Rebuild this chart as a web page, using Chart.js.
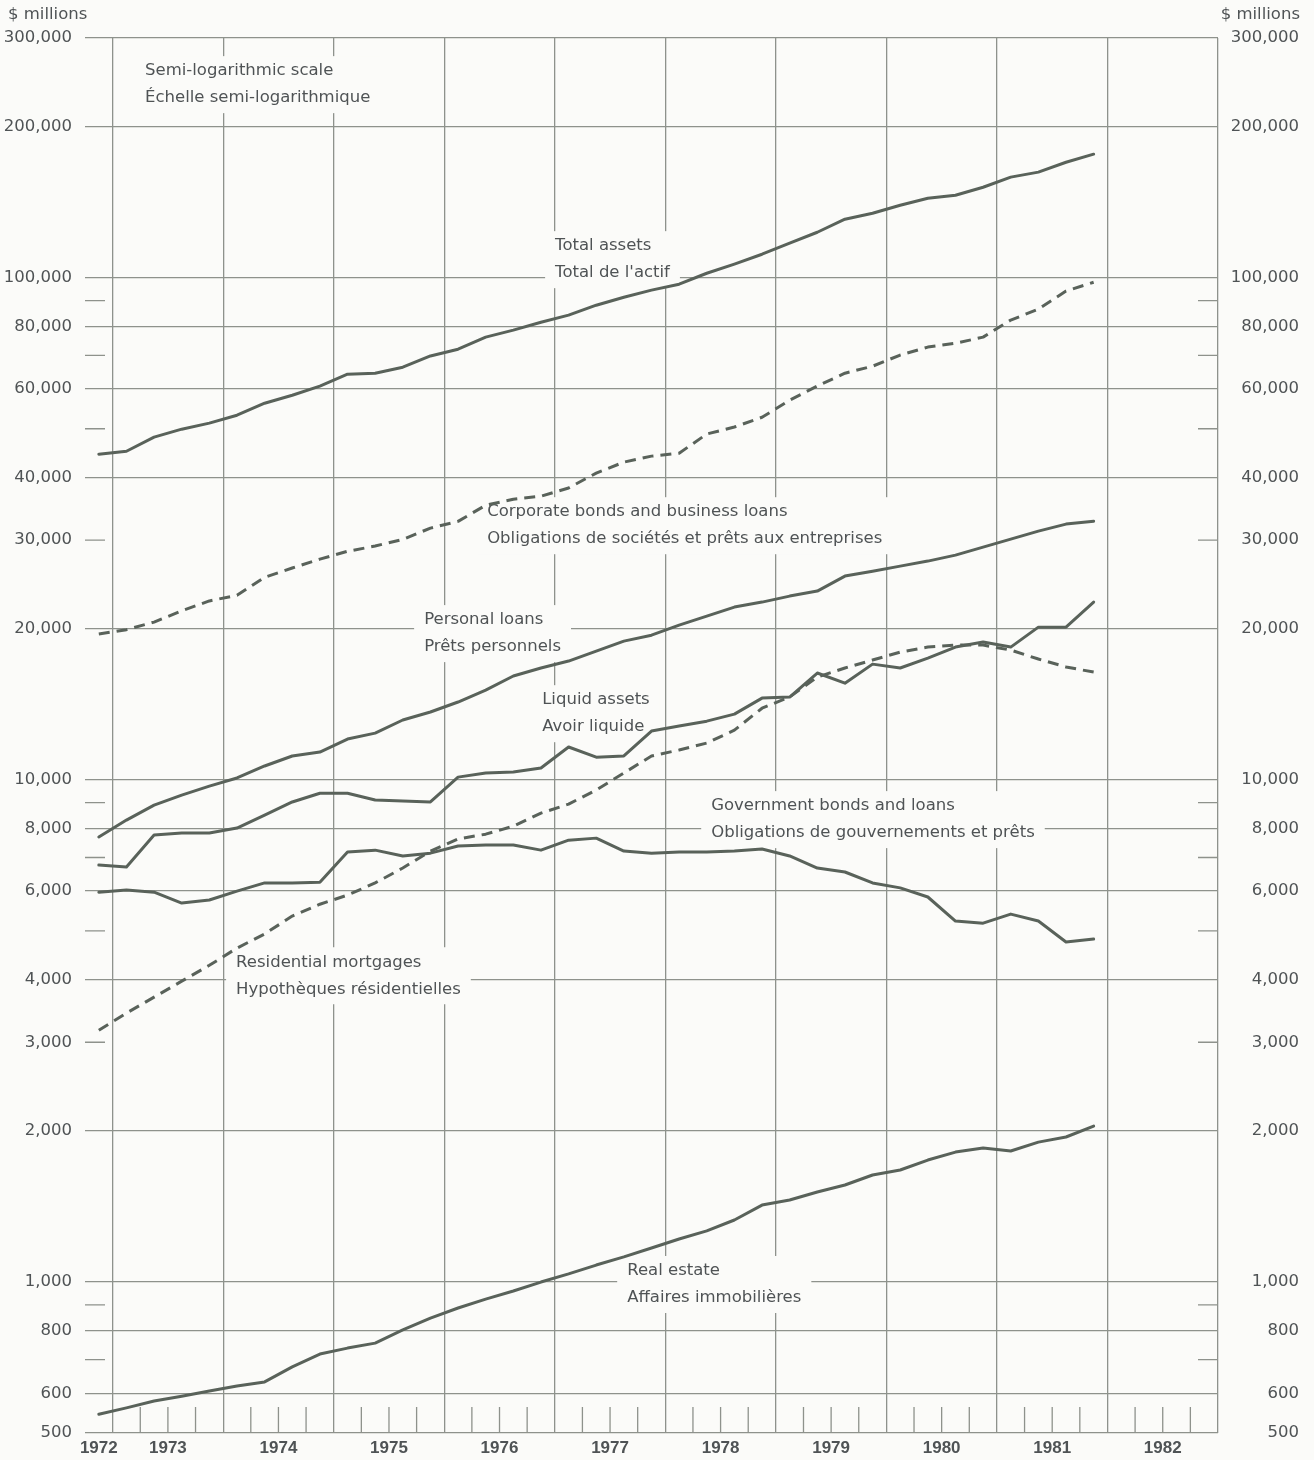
<!DOCTYPE html>
<html>
<head>
<meta charset="utf-8">
<script src="https://cdn.jsdelivr.net/npm/chart.js@4.4.0/dist/chart.umd.min.js"></script>
<style>
html,body{margin:0;padding:0;background:#fbfbf9;}
canvas{display:block;}
</style>
</head>
<body>
<canvas id="c" width="1314" height="1460"></canvas>
<script>
// ---------- DATA ----------
const quarters = ['1972Q4',
  '1973Q1','1973Q2','1973Q3','1973Q4',
  '1974Q1','1974Q2','1974Q3','1974Q4',
  '1975Q1','1975Q2','1975Q3','1975Q4',
  '1976Q1','1976Q2','1976Q3','1976Q4',
  '1977Q1','1977Q2','1977Q3','1977Q4',
  '1978Q1','1978Q2','1978Q3','1978Q4',
  '1979Q1','1979Q2','1979Q3','1979Q4',
  '1980Q1','1980Q2','1980Q3','1980Q4',
  '1981Q1','1981Q2','1981Q3','1981Q4'];

const totalAssets = [44500,45100,48100,49900,51300,53200,56200,58300,60800,64200,64500,66300,69800,72000,76100,78600,81500,84200,88100,91400,94400,97000,102000,106400,111300,117100,123100,130700,134300,139300,143900,145900,151300,158500,162200,169700,176100];
const corporateBonds = [19500,19900,20600,21700,22700,23300,25300,26400,27500,28500,29200,30100,31700,32700,35200,36200,36700,38100,40800,42900,44100,44700,48800,50400,52700,57000,60800,64500,66600,70100,72700,74000,76100,82300,86500,94000,97900];
const personalLoans = [7690,8310,8900,9320,9710,10080,10650,11150,11350,12050,12380,13150,13640,14280,15080,16090,16690,17230,18030,18880,19400,20320,21170,22070,22580,23210,23750,25440,26020,26630,27250,28010,29050,30140,31270,32290,32730];
const liquidAssets = [6760,6700,7760,7830,7830,8010,8500,9030,9400,9400,9110,9070,9030,10120,10310,10360,10550,11620,11090,11150,12500,12790,13080,13510,14540,14610,16310,15570,16990,16690,17470,18370,18800,18370,20130,20130,22580];
const governmentBonds = [5970,6030,5970,5680,5760,6000,6230,6230,6250,7180,7240,7050,7140,7380,7410,7410,7240,7580,7650,7210,7140,7180,7180,7210,7280,7050,6670,6550,6230,6090,5840,5230,5180,5400,5230,4750,4815];
const residentialMortgages = [3170,3430,3690,3970,4270,4620,4930,5350,5650,5890,6230,6670,7210,7620,7790,8080,8580,8940,9540,10310,11150,11460,11830,12550,13880,14610,16010,16690,17310,17950,18370,18540,18540,18120,17390,16770,16380];
const realEstate = [545,561,579,592,606,620,632,677,718,738,755,802,847,887,924,959,999,1037,1080,1121,1168,1217,1263,1328,1422,1455,1510,1559,1632,1670,1748,1813,1847,1822,1898,1943,2043];

const yearLabels = ['1972','1973','1974','1975','1976','1977','1978','1979','1980','1981','1982'];
const yLabelValues = [500,600,800,1000,2000,3000,4000,6000,8000,10000,20000,30000,40000,60000,80000,100000,200000,300000];
const yFullLines = [500,600,800,1000,2000,4000,6000,8000,10000,20000,40000,60000,80000,100000,200000,300000];
const yShortTicks = [700,900,3000,5000,7000,9000,30000,50000,70000,90000];

const annotations = [
  {x: 1973.293, y: 257700, lines: ['Semi-logarithmic scale', 'Échelle semi-logarithmique']},
  {x: 1977.003, y: 115500, lines: ['Total assets', "Total de l'actif"]},
  {x: 1976.388, y: 34100, lines: ['Corporate bonds and business loans', 'Obligations de sociétés et prêts aux entreprises']},
  {x: 1975.818, y: 20790, lines: ['Personal loans', 'Prêts personnels']},
  {x: 1976.886, y: 14400, lines: ['Liquid assets', 'Avoir liquide']},
  {x: 1978.415, y: 8860, lines: ['Government bonds and loans', 'Obligations de gouvernements et prêts']},
  {x: 1974.117, y: 4330, lines: ['Residential mortgages', 'Hypothèques résidentielles']},
  {x: 1977.655, y: 1051, lines: ['Real estate', 'Affaires immobilières']}
];

// ---------- STYLE ----------
const BG = '#fbfbf9';
const GRID = '#8e928c';
const LINE = '#59625a';
const TEXT = '#4f5355';
const FONT = 'DejaVu Sans';
const X_MIN = 1972.75, X_MAX = 1983;

const quarterX = quarters.map(q => parseInt(q.slice(0,4)) + (parseInt(q.slice(5)) - 1) * 0.25 + 0.125);
const pts = arr => arr.map((v, i) => ({x: quarterX[i], y: v}));

const yearPos = yearLabels.map(s => { const yr = parseInt(s); return (Math.max(yr, X_MIN) + yr + 1) / 2; });
const yearBounds = yearLabels.map(s => parseInt(s) + 1);
const xTickValues = [...yearPos, ...yearBounds].sort((a, b) => a - b);

const fmt = v => v.toLocaleString('en-US');
const yTickValues = [...yFullLines, ...yShortTicks].sort((a, b) => a - b);

function ds(label, data, dashed) {
  return {label, data: pts(data), borderColor: LINE, borderWidth: 3, borderDash: dashed ? [11, 7] : [],
          pointRadius: 0, tension: 0, fill: false, borderJoinStyle: 'round', borderCapStyle: dashed ? 'butt' : 'round'};
}

const decor = {
  id: 'decor',
  beforeDatasetsDraw(chart) {
    const {ctx, chartArea: a, scales: {x, y}} = chart;
    ctx.save();
    ctx.strokeStyle = GRID;
    ctx.lineWidth = 1.3;
    ctx.beginPath();
    for (const v of yShortTicks) {
      const py = y.getPixelForValue(v);
      ctx.moveTo(a.left, py); ctx.lineTo(a.left + 20, py);
      ctx.moveTo(a.right - 20, py); ctx.lineTo(a.right, py);
    }
    for (let k = Math.floor(X_MIN * 4) + 1; k < X_MAX * 4; k++) {
      if (k % 4 === 0) continue;
      const px = x.getPixelForValue(k / 4);
      ctx.moveTo(px, a.bottom); ctx.lineTo(px, a.bottom - 26);
    }
    ctx.stroke();

    ctx.font = '16.5px "' + FONT + '"';
    ctx.textBaseline = 'middle';
    ctx.textAlign = 'left';
    const lh = 27;
    for (const an of annotations) {
      const px = x.getPixelForValue(an.x), py = y.getPixelForValue(an.y);
      const w = Math.max(...an.lines.map(l => ctx.measureText(l).width));
      ctx.fillStyle = BG;
      ctx.fillRect(px - 10, py - 15, w + 20, (an.lines.length - 1) * lh + 30);
      ctx.fillStyle = TEXT;
      an.lines.forEach((l, i) => ctx.fillText(l, px, py + i * lh));
    }
    ctx.restore();
  },
  afterDraw(chart) {
    const {ctx} = chart;
    ctx.save();
    ctx.font = '16.5px "' + FONT + '"';
    ctx.fillStyle = TEXT;
    ctx.textBaseline = 'middle';
    ctx.textAlign = 'left';
    ctx.fillText('$ millions', 8, 15);
    ctx.textAlign = 'right';
    ctx.fillText('$ millions', chart.width - 14, 15);
    ctx.restore();
  }
};

const yTickCfg = {
  autoSkip: false,
  color: TEXT,
  font: {family: FONT, size: 16.5},
  callback: v => yLabelValues.includes(v) ? fmt(v) : ''
};

new Chart(document.getElementById('c'), {
  type: 'line',
  data: {
    datasets: [
      ds('Total assets', totalAssets, false),
      ds('Corporate bonds and business loans', corporateBonds, true),
      ds('Personal loans', personalLoans, false),
      ds('Liquid assets', liquidAssets, false),
      ds('Government bonds and loans', governmentBonds, false),
      ds('Residential mortgages', residentialMortgages, true),
      ds('Real estate', realEstate, false)
    ]
  },
  options: {
    responsive: false,
    animation: false,
    layout: {padding: {top: 38, right: 15, left: 0, bottom: 0}},
    plugins: {legend: {display: false}, tooltip: {enabled: false}},
    scales: {
      x: {
        type: 'linear', min: X_MIN, max: X_MAX,
        border: {display: false},
        afterBuildTicks: s => { s.ticks = xTickValues.map(v => ({value: v})); },
        afterFit: s => { s.height = 27; },
        grid: {color: c => (c.tick && Number.isInteger(c.tick.value)) ? GRID : 'rgba(0,0,0,0)', lineWidth: 1.3, drawTicks: false},
        ticks: {autoSkip: false, maxRotation: 0, minRotation: 0, padding: 5, color: TEXT,
                font: {family: 'Liberation Sans', size: 17, weight: 'bold'},
                callback: v => Number.isInteger(v) ? '' : String(Math.floor(v))}
      },
      y: {
        type: 'logarithmic', position: 'left', min: 500, max: 300000,
        border: {display: false},
        afterBuildTicks: s => { s.ticks = yTickValues.map(v => ({value: v})); },
        afterFit: s => { s.width = 85; },
        grid: {color: c => (c.tick && yFullLines.includes(c.tick.value)) ? GRID : 'rgba(0,0,0,0)', lineWidth: 1.3, drawTicks: false},
        ticks: Object.assign({padding: 13}, yTickCfg)
      },
      y2: {
        type: 'logarithmic', position: 'right', min: 500, max: 300000,
        border: {display: false},
        afterBuildTicks: s => { s.ticks = yTickValues.map(v => ({value: v})); },
        afterFit: s => { s.width = 81; },
        grid: {display: false, drawTicks: false},
        ticks: Object.assign({padding: 0, crossAlign: 'far'}, yTickCfg)
      }
    }
  },
  plugins: [decor]
});
</script>
</body>
</html>
